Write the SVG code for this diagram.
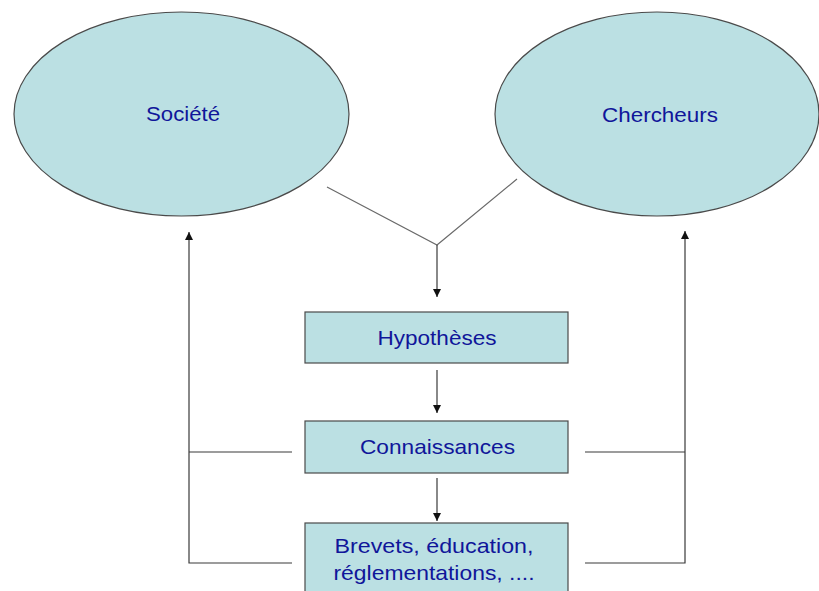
<svg xmlns="http://www.w3.org/2000/svg" width="819" height="591" viewBox="0 0 819 591">
<style>
.node{fill:#bbe0e3;stroke:#4a4a4a;stroke-width:1.2}
.lbl{font-family:"Liberation Sans",Arial,sans-serif;font-size:21px;fill:#10169a;text-anchor:middle}
.ln{stroke:#3a3a3a;stroke-width:1.2;fill:none}
.diag{stroke:#6a6a6a;stroke-width:1.2;fill:none}
</style>
<defs>
<marker id="ah" viewBox="0 0 10 10" refX="10" refY="5" markerWidth="8" markerHeight="8" markerUnits="userSpaceOnUse" orient="auto">
<path d="M0,0 L10,5 L0,10 z" fill="#111"/>
</marker>
</defs>
<rect width="819" height="591" fill="#ffffff"/>
<g id="societe">
<ellipse class="node" cx="181.5" cy="114" rx="167.5" ry="102"/>
<text class="lbl" x="183" y="121" textLength="74" lengthAdjust="spacingAndGlyphs">Société</text>
</g>
<g id="chercheurs">
<ellipse class="node" cx="657" cy="114" rx="162" ry="102"/>
<text class="lbl" x="660" y="122" textLength="116" lengthAdjust="spacingAndGlyphs">Chercheurs</text>
</g>
<g id="hypotheses">
<rect class="node" x="305" y="312" width="263" height="51"/>
<text class="lbl" x="437" y="345" textLength="119" lengthAdjust="spacingAndGlyphs">Hypothèses</text>
</g>
<g id="connaissances">
<rect class="node" x="305" y="421" width="263" height="52"/>
<text class="lbl" x="437.5" y="454" textLength="155" lengthAdjust="spacingAndGlyphs">Connaissances</text>
</g>
<g id="brevets">
<rect class="node" x="305" y="523" width="263" height="80"/>
<text class="lbl" x="434" y="553" textLength="199" lengthAdjust="spacingAndGlyphs">Brevets, éducation,</text>
<text class="lbl" x="434" y="580" textLength="201" lengthAdjust="spacingAndGlyphs">réglementations, ....</text>
</g>
<g id="connectors">
<path class="diag" d="M327,187 L437,245 L517,179"/>
<path class="ln" d="M437,245 L437,297" marker-end="url(#ah)"/>
<path class="ln" d="M437,370 L437,413" marker-end="url(#ah)"/>
<path class="ln" d="M437,478 L437,521" marker-end="url(#ah)"/>
<path class="ln" d="M292,452 L189,452"/>
<path class="ln" d="M292,563 L189,563 L189,232" marker-end="url(#ah)"/>
<path class="ln" d="M585,452 L685,452"/>
<path class="ln" d="M585,563 L685,563 L685,231" marker-end="url(#ah)"/>
</g>
</svg>
